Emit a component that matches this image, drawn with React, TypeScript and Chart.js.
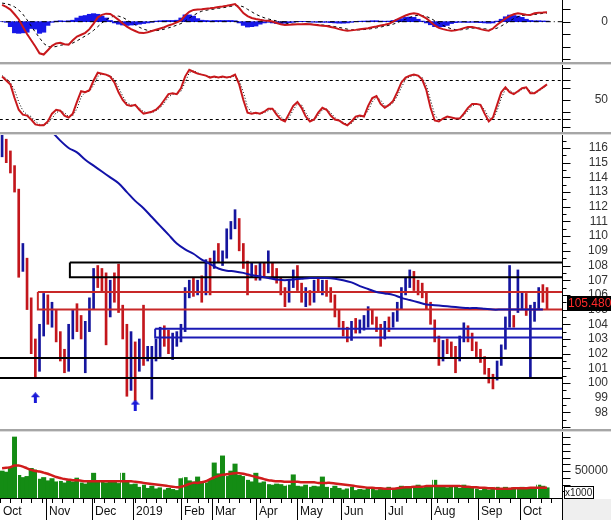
import React, { useEffect, useRef } from "react";
import { Chart, registerables } from "chart.js";
Chart.register(...registerables);

// ---------------- data (one bar = two trading days) ----------------
const monthLabels = ["Oct", "Nov", "Dec", "2019", "Feb", "Mar", "Apr", "May", "Jun", "Jul", "Aug", "Sep", "Oct"];
const monthStarts = [0, 11, 22, 32, 43.5, 51, 61.5, 71.5, 82, 92.5, 103.5, 115, 125];

const closes = [
  115.8, 115.3, 114.8, 113.6, 107.8, 109.0, 105.5, 102.5, 101.0, 103.5,
  105.5, 104.5, 104.9, 103.2, 101.8, 101.0, 103.6, 104.6, 104.0, 103.4,
  103.8, 105.5, 107.5, 107.0, 106.8, 105.0, 106.5, 106.0, 105.0, 103.5,
  99.5, 102.5, 99.5, 102.0, 101.8, 102.2, 102.4, 102.5, 103.2, 103.0,
  102.5, 102.8, 103.0, 103.6, 106.2, 106.5, 106.4, 106.8, 105.8, 108.0,
  107.0, 108.8, 108.5, 108.8, 110.2, 110.8, 111.2, 109.2, 108.0, 107.5,
  107.8, 107.3, 107.9, 107.6, 108.8, 107.4, 107.0, 106.2, 105.6, 106.8,
  107.2, 106.5, 105.8, 106.0, 105.6, 106.7, 106.5, 106.8, 106.2, 105.8,
  104.8, 104.0, 103.4, 103.0, 104.0, 103.7, 103.9, 104.3, 104.8, 104.2,
  103.8, 103.0, 103.9, 103.7, 104.6, 105.3, 106.3, 107.0, 107.3, 106.6,
  106.4, 106.0, 105.3, 104.2, 103.0, 101.6, 102.6, 102.3, 102.0, 101.8,
  103.0, 103.8, 103.0, 102.5, 102.0, 101.6, 100.8, 100.3, 100.2, 101.3,
  102.4, 104.3, 104.4, 104.0, 105.2, 105.8, 104.8, 105.0, 105.3, 106.3,
  106.0, 105.48,
];
const lows = [
  115.4, 115.0, 114.3, 113.0, 107.2, 107.6, 105.0, 102.0, 100.3, 100.8,
  103.2, 104.0, 103.8, 102.8, 101.5, 100.7, 100.8, 103.0, 103.5, 103.0,
  100.7, 103.5, 105.0, 106.5, 106.2, 102.6, 104.5, 105.5, 104.8, 103.0,
  99.1, 99.5, 98.8, 100.8, 101.2, 101.5, 98.9, 101.5, 101.8, 102.5,
  102.0, 101.6, 102.5, 102.8, 103.5, 105.8, 105.9, 106.0, 105.5, 106.0,
  106.0, 107.8, 108.2, 108.0, 108.5, 109.8, 110.5, 109.0, 107.8, 106.0,
  107.2, 107.0, 107.0, 107.3, 107.5, 107.2, 106.8, 106.0, 105.2, 105.5,
  106.5, 106.3, 105.5, 105.2, 105.3, 105.5, 106.2, 106.0, 105.9, 105.5,
  104.5, 103.8, 103.2, 102.8, 102.9, 103.4, 103.4, 103.6, 103.8, 104.0,
  103.5, 102.5, 103.0, 103.5, 103.8, 104.2, 105.0, 106.0, 106.5, 106.3,
  106.0, 105.8, 105.0, 104.0, 102.8, 101.2, 101.5, 102.0, 101.8, 100.7,
  101.5, 102.8, 102.8, 102.2, 101.8, 101.4, 100.6, 100.0, 99.6, 100.2,
  101.2, 102.3, 103.8, 103.8, 104.8, 105.0, 104.6, 100.4, 104.2, 105.0,
  105.5, 105.0,
];
const highs = [
  116.9, 116.6, 115.8, 114.8, 113.2, 109.5, 108.5, 105.8, 103.0, 104.0,
  106.1, 106.0, 105.5, 105.0, 103.5, 102.3, 104.0, 105.0, 105.4, 104.6,
  104.2, 105.8, 107.8, 108.0, 107.8, 107.5, 107.0, 107.5, 108.1, 105.3,
  104.0, 103.5, 102.8, 103.0, 105.3, 102.5, 102.5, 103.0, 103.8, 103.9,
  103.6, 103.4, 103.5, 104.0, 106.5, 107.0, 107.2, 107.0, 107.3, 108.4,
  108.5, 109.0, 109.5, 109.0, 110.5, 111.0, 111.8, 111.2, 109.5, 108.3,
  108.2, 108.0, 108.2, 108.2, 109.0, 108.2, 107.8, 107.2, 106.5, 107.0,
  107.7, 108.0, 106.8, 106.5, 106.3, 107.0, 107.2, 107.0, 107.0, 106.5,
  106.0, 105.0, 104.2, 103.8, 104.2, 104.4, 104.3, 104.6, 105.2, 105.0,
  104.5, 104.0, 104.2, 104.5, 104.8, 105.5, 106.5, 107.2, 107.7, 107.6,
  107.0, 106.8, 106.2, 105.5, 104.3, 103.2, 102.9, 103.0, 102.8, 102.5,
  103.2, 104.1, 103.9, 103.4, 102.8, 102.3, 101.8, 101.0, 100.6, 101.5,
  102.6, 104.5, 108.0, 104.6, 107.7, 106.2, 106.1, 105.3, 105.5, 106.5,
  106.7, 106.5,
];

const maStart = 12;
const maStep = 2;
const longMA = [
  117.1, 116.5, 116.0, 115.7, 115.2, 114.8, 114.4, 114.0, 113.6, 113.0,
  112.4, 111.9, 111.3, 110.7, 110.1, 109.5, 109.1, 108.8, 108.4, 108.1,
  107.8, 107.65, 107.6, 107.5, 107.35, 107.25, 107.15, 107.05, 107.0, 107.05,
  107.1, 107.15, 107.15, 107.15, 107.1, 107.0, 106.85, 106.6, 106.4, 106.2,
  106.1, 106.0, 105.8, 105.65, 105.5, 105.35, 105.3, 105.25, 105.2, 105.15,
  105.1, 105.1, 105.05, 105.0, 105.0, 105.0, 105.0, 105.0, 105.0, 105.0,
];

const zoneTops = [108.2, 106.2, 103.7];
const zoneBottoms = [107.2, 105.0, 103.1];
const zoneStarts = [16.3, 8.6, 36.8];
const supportLevels = [101.7, 100.35];
const arrowBars = [8, 32];
const arrowPrices = [99.0, 98.5];
const lastPriceText = "105.4800";

const rsi = [
  74, 70, 66, 52, 40, 35, 34, 30, 25, 24,
  24, 28, 36, 40, 39, 34, 32, 36, 48, 59,
  58, 60, 70, 78, 77, 76, 74, 68, 58, 50,
  45, 44, 45, 40, 36, 37, 38, 40, 44, 50,
  56, 57, 56, 62, 74, 81, 79, 77, 76, 75,
  73, 74, 73, 74, 73, 74, 76, 66, 50, 37,
  36, 37, 36, 38, 41, 41, 35, 30, 28, 36,
  44, 48, 42, 33, 28, 30, 37, 42, 40, 34,
  30, 29, 26, 24, 28, 33, 34, 33, 44, 52,
  54, 46, 42, 45, 49, 58, 68, 73, 75, 76,
  75, 71, 60, 42, 29, 28, 31, 33, 32, 31,
  31, 36, 42, 46, 46, 45, 36, 28, 32, 45,
  58, 63, 58, 56, 59, 62, 63, 57, 57, 60,
  63, 66,
];
const rsiSignal = [
  75, 72, 68, 60, 48, 39, 35, 33, 28, 25,
  24, 26, 31, 37, 39, 37, 33, 34, 41, 53,
  58, 59, 65, 74, 77, 76, 75, 71, 63, 54,
  47, 45, 44, 42, 38, 37, 37, 39, 42, 47,
  53, 56, 56, 59, 68, 78, 80, 78, 76, 75,
  74, 73, 73, 73, 73, 73, 75, 70, 58, 43,
  37, 36, 36, 37, 39, 41, 38, 33, 29, 32,
  40, 46, 45, 37, 30, 29, 34, 40, 41, 37,
  32, 29, 27, 25, 26, 31, 33, 33, 39, 48,
  53, 50, 44, 44, 47, 54, 63, 71, 74, 75,
  75, 73, 65, 50, 35, 29, 30, 32, 32, 31,
  31, 34, 39, 44, 46, 45, 40, 32, 30, 39,
  52, 61, 60, 57, 58, 61, 62, 59, 57, 59,
  62, 65,
];
const rsiLevels = [70, 30];

const macd = [
  1.35, 1.2, 0.98, 0.6, 0.2, -0.4, -1.0, -1.5, -2.0, -2.55,
  -2.65, -2.3, -1.95, -1.75, -1.7, -1.82, -1.85, -1.5, -1.2, -1.05,
  -0.9, -0.6, -0.15, 0.35, 0.55, 0.65, 0.62, 0.4, 0.15, -0.15,
  -0.4, -0.6, -0.75, -0.9, -0.92, -0.85, -0.75, -0.65, -0.55, -0.45,
  -0.3, -0.2, -0.05, 0.1, 0.5, 0.8, 0.95, 0.98, 1.0, 1.05,
  1.08, 1.12, 1.18, 1.22, 1.28, 1.35, 1.42, 1.1, 0.7, 0.45,
  0.3, 0.22, 0.15, 0.1, 0.08, 0.02, -0.1, -0.2, -0.27, -0.25,
  -0.22, -0.2, -0.2, -0.19, -0.2, -0.24, -0.28, -0.32, -0.35, -0.42,
  -0.5, -0.6, -0.68, -0.73, -0.7, -0.66, -0.6, -0.56, -0.53, -0.45,
  -0.38, -0.3, -0.24, -0.17, 0.0, 0.18, 0.35, 0.5, 0.62, 0.68,
  0.62, 0.45, 0.27, 0.0, -0.3, -0.5, -0.6, -0.68, -0.73, -0.7,
  -0.62, -0.52, -0.42, -0.42, -0.5, -0.6, -0.68, -0.73, -0.55, -0.25,
  0.0, 0.25, 0.45, 0.6, 0.68, 0.62, 0.56, 0.54, 0.68, 0.73,
  0.74, 0.76,
];
const macdSignal = [
  1.5, 1.45, 1.35, 1.2, 0.95, 0.6, 0.15, -0.35, -0.85, -1.3,
  -1.75, -2.0, -2.05, -2.0, -1.9, -1.85, -1.82, -1.72, -1.55, -1.35,
  -1.15, -0.95, -0.7, -0.4, -0.1, 0.15, 0.35, 0.45, 0.45, 0.35,
  0.15, -0.05, -0.25, -0.45, -0.6, -0.7, -0.72, -0.72, -0.68, -0.6,
  -0.5, -0.4, -0.28, -0.15, 0.05, 0.3, 0.5, 0.7, 0.85, 0.92,
  0.98, 1.02, 1.08, 1.12, 1.18, 1.24, 1.3, 1.3, 1.2, 1.0,
  0.8, 0.6, 0.45, 0.32, 0.22, 0.14, 0.06, -0.02, -0.1, -0.16,
  -0.2, -0.22, -0.22, -0.21, -0.2, -0.21, -0.23, -0.26, -0.3, -0.34,
  -0.4, -0.46, -0.53, -0.6, -0.65, -0.67, -0.66, -0.63, -0.6, -0.55,
  -0.5, -0.43, -0.36, -0.29, -0.2, -0.08, 0.06, 0.2, 0.34, 0.45,
  0.52, 0.5, 0.42, 0.28, 0.08, -0.12, -0.3, -0.45, -0.57, -0.64,
  -0.66, -0.63, -0.57, -0.52, -0.5, -0.52, -0.57, -0.62, -0.62, -0.52,
  -0.35, -0.15, 0.05, 0.25, 0.4, 0.5, 0.54, 0.55, 0.58, 0.63,
  0.67, 0.7,
];
const macdHist = [
  0, -0.05, -0.4, -0.9, -0.94, -0.9, -0.85, -0.55, -0.6, -0.94,
  -0.85, -0.3, -0.05, 0.05, 0.08, 0.05, 0.08, 0.12, 0.3, 0.45,
  0.5, 0.6, 0.65, 0.6, 0.45, 0.3, 0.1, -0.1, -0.2, -0.27,
  -0.3, -0.27, -0.25, -0.2, -0.15, -0.1, -0.05, 0.05, 0.08, 0.1,
  0.1, 0.1, 0.12, 0.3, 0.55, 0.55, 0.45, 0.25, 0.12, 0.1,
  0.08, 0.1, 0.1, 0.1, 0.1, 0.1, 0.08, -0.1, -0.3, -0.43,
  -0.4, -0.35, -0.2, -0.1, -0.05, -0.1, -0.15, -0.15, -0.12, -0.08,
  -0.05, 0.02, 0.03, 0.02, -0.03, -0.04, -0.05, -0.05, -0.05, -0.08,
  -0.1, -0.12, -0.12, -0.1, -0.05, 0.02, 0.04, 0.05, 0.06, 0.08,
  0.08, 0.05, 0.04, 0.05, 0.1, 0.18, 0.25, 0.35, 0.38, 0.35,
  0.2, 0.05, -0.1, -0.25, -0.4, -0.43, -0.4, -0.3, -0.15, -0.08,
  -0.05, -0.05, -0.06, -0.05, -0.06, -0.08, -0.1, -0.12, -0.1, 0.05,
  0.2, 0.4, 0.54, 0.5, 0.45, 0.35, 0.2, 0.1, 0.08, 0.08,
  0.06, 0.05,
];

// volume in thousands
const volume = [
  50, 48, 55, 113, 42, 38, 40, 55, 52, 35,
  38, 32, 36, 30, 31, 28, 32, 30, 37, 28,
  26, 30, 46, 30, 32, 28, 30, 31, 27, 46,
  30, 25, 26, 20, 24, 18, 22, 17, 19, 15,
  18, 16, 14, 36, 38, 32, 30, 39, 30, 28,
  33, 65, 45, 78, 40, 50, 63, 42, 40, 33,
  30, 46, 28, 30, 25, 24, 26, 25, 22, 24,
  43, 22, 21, 24, 20, 22, 21, 39, 20, 18,
  22, 18, 15, 17, 20, 14, 16, 15, 18, 17,
  14, 16, 15, 20, 15, 17, 22, 18, 21, 20,
  24, 19, 20, 22, 33, 20, 22, 19, 20, 21,
  18, 24, 20, 19, 17, 14, 18, 15, 18, 20,
  17, 20, 18, 19, 16, 20, 18, 19, 17, 24,
  22, 19,
];
const volumeMA = [
  55, 56, 57, 60, 60, 58, 55, 52, 50, 49,
  47, 45, 42, 39, 37, 35, 34, 33, 33, 32,
  31, 31, 31, 31, 31, 31, 31, 31, 31, 31,
  31, 31, 30, 29, 28, 27, 26, 25, 24, 23,
  22, 21, 20, 21, 23, 26, 28, 28, 29, 31,
  35, 38, 41, 43, 44, 45, 46, 46, 45, 43,
  41, 39, 37, 35, 33, 32, 31, 31, 30, 30,
  30, 30, 29, 29, 29, 29, 28, 28, 28, 28,
  27, 26, 25, 24, 23, 22, 21, 20, 19, 19,
  18, 18, 17, 17, 17, 18, 19, 20, 20, 21,
  21, 21, 22, 22, 22, 22, 22, 22, 22, 22,
  22, 21, 21, 20, 20, 19, 19, 18, 18, 17,
  17, 17, 17, 18, 18, 18, 18, 19, 19, 19,
  19, 19,
];

const priceTickValues = [97, 98, 99, 100, 101, 102, 103, 104, 105, 106, 107, 108, 109, 110, 111, 112, 113, 114, 115, 116];
const priceTickLabels = ["", "98", "99", "100", "101", "102", "103", "104", "105", "106", "107", "108", "109", "110", "111", "112", "113", "114", "115", "116"];
const macdTickValues = [1, 0, -1, -2, -3];
const macdTickLabels = ["", "0", "", "", ""];
const rsiTickValues = [82.5, 70, 62.5, 50, 37.5, 30, 22.5];
const rsiTickLabels = ["", "", "", "50", "", "", ""];
const volTickValues = [12.5, 25, 37.5, 50, 62.5, 75, 87.5, 100, 112.5];
const volTickLabels = ["", "", "", "50000", "", "", "", "", ""];
const volSeparatorEvery = 5;
const volSeparatorFirst = 3.5;

// ---------------- layout / style ----------------
const CW = 611;
const PLOT_RIGHT = 562;
const X_MIN = -0.5;
const X_MAX = 134.6;
const FONT = '"Liberation Sans", Arial, sans-serif';
const RED = "#c3161c";
const BLUE = "#15159e";

const series = (arr: number[], start = 0, step = 1) => arr.map((v, i) => ({ x: start + i * step, y: v }));
const hline = (y: number) => [{ x: -2, y }, { x: 140, y }];

function baseOptions(yMin: number, yMax: number, padBottom = 0): any {
  return {
    animation: false,
    responsive: false,
    maintainAspectRatio: false,
    devicePixelRatio: 1,
    events: [],
    layout: { autoPadding: false, padding: { left: 0, top: 0, right: CW - PLOT_RIGHT, bottom: padBottom } },
    plugins: { legend: { display: false }, tooltip: { enabled: false } },
    scales: {
      x: { type: "linear", min: X_MIN, max: X_MAX, display: false, offset: false },
      y: { type: "linear", min: yMin, max: yMax, display: false },
    },
  };
}

function lineDs(data: any[], color: string, width: number, extra: any = {}): any {
  return { type: "line", data, borderColor: color, borderWidth: width, pointRadius: 0, fill: false, clip: 0, tension: 0, ...extra };
}

function rightAxis(id: string, values: number[], labels: string[], minor: number[]): any {
  return {
    id,
    afterDraw(chart: any) {
      const { ctx, chartArea: a } = chart;
      const ys = chart.scales.y;
      const x0 = Math.round(a.right) + 0.5;
      ctx.save();
      ctx.strokeStyle = "#000";
      ctx.lineWidth = 1;
      ctx.beginPath();
      ctx.moveTo(x0, a.top);
      ctx.lineTo(x0, a.bottom);
      for (const v of minor) {
        const y = Math.round(ys.getPixelForValue(v)) + 0.5;
        ctx.moveTo(x0, y);
        ctx.lineTo(x0 + 4, y);
      }
      for (const v of values) {
        const y = Math.round(ys.getPixelForValue(v)) + 0.5;
        ctx.moveTo(x0, y);
        ctx.lineTo(x0 + 8, y);
      }
      ctx.stroke();
      ctx.fillStyle = "#333";
      ctx.font = "12px " + FONT;
      ctx.textAlign = "right";
      ctx.textBaseline = "middle";
      values.forEach((v, i) => {
        if (labels[i]) ctx.fillText(labels[i], 608, ys.getPixelForValue(v));
      });
      ctx.restore();
    },
  };
}

function makeArrow(): HTMLCanvasElement {
  const c = document.createElement("canvas");
  c.width = 9;
  c.height = 11;
  const g = c.getContext("2d")!;
  g.fillStyle = "#1a1ad8";
  g.beginPath();
  g.moveTo(4.5, 0);
  g.lineTo(9, 5);
  g.lineTo(6, 5);
  g.lineTo(6, 11);
  g.lineTo(3, 11);
  g.lineTo(3, 5);
  g.lineTo(0, 5);
  g.closePath();
  g.fill();
  return c;
}

function macdConfig(h: number): any {
  const max = 1.75;
  const min = max - h / 12.4;
  return {
    type: "line",
    data: {
      datasets: [
        { type: "bar", data: series(macdHist), backgroundColor: "#1717e8", barThickness: 4.4, grouped: false, order: 4, clip: 0 },
        lineDs(hline(0), "#000", 1, { borderDash: [5, 3, 1, 3], order: 3 }),
        lineDs(series(macdSignal), "#000", 1, { borderDash: [3, 3], order: 2 }),
        lineDs(series(macd), "#c8181c", 2, { order: 1 }),
      ],
    },
    options: baseOptions(min, max),
    plugins: [rightAxis("macdAxis", macdTickValues, macdTickLabels, [])],
  };
}

function rsiConfig(h: number): any {
  const max = 50 + 35 / 0.975;
  const min = max - h / 0.975;
  return {
    type: "line",
    data: {
      datasets: [
        ...rsiLevels.map((lv) => lineDs(hline(lv), "#000", 1, { borderDash: [3, 3], order: 3 })),
        lineDs(series(rsiSignal), "#000", 1, { borderDash: [1, 2], order: 2 }),
        lineDs(series(rsi), "#c8181c", 2, { order: 1 }),
      ],
    },
    options: baseOptions(min, max),
    plugins: [rightAxis("rsiAxis", rsiTickValues, rsiTickLabels, [])],
  };
}

function priceConfig(h: number): any {
  const max = 116 + 13 / 14.69;
  const min = max - h / 14.69;
  const arrow = makeArrow();
  const zoneColors = ["#000000", "#c82828", "#1a1ab4"];
  const zoneDs = zoneTops.map((top, i) =>
    lineDs(
      [
        { x: zoneStarts[i], y: top },
        { x: 140, y: top },
        { x: 140, y: zoneBottoms[i] },
        { x: zoneStarts[i], y: zoneBottoms[i] },
        { x: zoneStarts[i], y: top },
      ],
      zoneColors[i],
      2,
      { order: 3 }
    )
  );
  const labelPlugin = {
    id: "lastPrice",
    afterDraw(chart: any) {
      const { ctx } = chart;
      const y = chart.scales.y.getPixelForValue(closes[closes.length - 1]);
      ctx.save();
      ctx.fillStyle = "#000";
      ctx.fillRect(567, Math.round(y) - 7, 44, 15);
      ctx.fillStyle = "#ff2a2a";
      ctx.font = "12px " + FONT;
      ctx.textAlign = "left";
      ctx.textBaseline = "middle";
      ctx.fillText(lastPriceText, 568, Math.round(y) + 1);
      ctx.restore();
    },
  };
  return {
    type: "line",
    data: {
      datasets: [
        {
          type: "bar",
          data: closes.map((c, i) => ({ x: i, y: [lows[i], highs[i]] })),
          backgroundColor: closes.map((c, i) => (i === 0 || c >= closes[i - 1] ? BLUE : RED)),
          barThickness: 2,
          grouped: false,
          order: 5,
          clip: 0,
        },
        ...zoneDs,
        ...supportLevels.map((lv) => lineDs(hline(lv), "#000", 2, { order: 3 })),
        lineDs(series(longMA, maStart, maStep), "#1212a8", 2, { order: 1, tension: 0.3 }),
        {
          type: "line",
          data: arrowBars.map((b, i) => ({ x: b, y: arrowPrices[i] })),
          showLine: false,
          pointStyle: arrow,
          pointRadius: 5,
          order: 0,
          clip: 0,
        },
      ],
    },
    options: baseOptions(min, max),
    plugins: [
      rightAxis("priceAxis", priceTickValues, priceTickLabels, priceTickValues.map((v) => v + 0.5)),
      labelPlugin,
    ],
  };
}

function volumeConfig(h: number, padBottom: number): any {
  const max = (h - padBottom) / 0.54;
  const sepPlugin = {
    id: "volSep",
    afterDatasetDraw(chart: any, args: any) {
      if (args.index !== 0) return;
      const { ctx, chartArea: a } = chart;
      const xs = chart.scales.x;
      ctx.save();
      ctx.strokeStyle = "#ffffff";
      ctx.lineWidth = 1;
      ctx.beginPath();
      for (let k = volSeparatorFirst; k < volume.length; k += volSeparatorEvery) {
        const px = Math.round(xs.getPixelForValue(k)) + 0.5;
        ctx.moveTo(px, a.top);
        ctx.lineTo(px, a.bottom);
      }
      ctx.stroke();
      ctx.restore();
    },
  };
  const xAxisPlugin = {
    id: "xAxisBottom",
    afterDraw(chart: any) {
      const { ctx, chartArea: a } = chart;
      const xs = chart.scales.x;
      const H = chart.height;
      const bottom = Math.round(a.bottom);
      ctx.save();
      ctx.fillStyle = "#efefef";
      ctx.fillRect(PLOT_RIGHT + 1, bottom + 1, CW - PLOT_RIGHT, H - bottom);
      ctx.strokeStyle = "#000";
      ctx.lineWidth = 1;
      ctx.beginPath();
      ctx.moveTo(0, bottom + 0.5);
      ctx.lineTo(PLOT_RIGHT + 1, bottom + 0.5);
      ctx.moveTo(PLOT_RIGHT + 0.5, bottom);
      ctx.lineTo(PLOT_RIGHT + 0.5, H);
      for (let t = X_MIN; t < X_MAX - 1; t += 2.5) {
        const px = Math.round(xs.getPixelForValue(t)) + 0.5;
        ctx.moveTo(px, bottom);
        ctx.lineTo(px, bottom + 5);
      }
      monthStarts.forEach((s, i) => {
        if (i === 0) return;
        const px = Math.round(xs.getPixelForValue(s - 0.5)) + 0.5;
        ctx.moveTo(px, bottom);
        ctx.lineTo(px, H);
      });
      ctx.stroke();
      ctx.fillStyle = "#111";
      ctx.font = "12px " + FONT;
      ctx.textAlign = "left";
      ctx.textBaseline = "middle";
      monthStarts.forEach((s, i) => {
        const px = Math.max(1, Math.round(xs.getPixelForValue(s - 0.5)) + 3);
        ctx.fillText(monthLabels[i], px, bottom + 14);
      });
      // unit box
      ctx.fillStyle = "#fff";
      ctx.fillRect(564, bottom - 12, 29, 12);
      ctx.strokeRect(564.5, bottom - 11.5, 29, 12);
      ctx.fillStyle = "#222";
      ctx.font = "10px " + FONT;
      ctx.fillText("x1000", 565, bottom - 5);
      ctx.restore();
    },
  };
  return {
    type: "line",
    data: {
      datasets: [
        { type: "bar", data: series(volume), backgroundColor: "#148c14", barThickness: 4.4, grouped: false, order: 2, clip: 0 },
        lineDs(series(volumeMA), "#d01c1c", 2.5, { order: 1, tension: 0.3 }),
      ],
    },
    options: baseOptions(0, max, padBottom),
    plugins: [rightAxis("volAxis", volTickValues, volTickLabels, []), sepPlugin, xAxisPlugin],
  };
}

const PANELS = {
  macd: { top: 0, h: 63 },
  rsi: { top: 65, h: 68 },
  price: { top: 135, h: 295 },
  vol: { top: 432, h: 88, pad: 22 },
};

export default function App() {
  const macdRef = useRef<HTMLCanvasElement>(null);
  const rsiRef = useRef<HTMLCanvasElement>(null);
  const priceRef = useRef<HTMLCanvasElement>(null);
  const volRef = useRef<HTMLCanvasElement>(null);

  useEffect(() => {
    const charts: Chart[] = [];
    charts.push(new Chart(macdRef.current!, macdConfig(PANELS.macd.h)));
    charts.push(new Chart(rsiRef.current!, rsiConfig(PANELS.rsi.h)));
    charts.push(new Chart(priceRef.current!, priceConfig(PANELS.price.h)));
    charts.push(new Chart(volRef.current!, volumeConfig(PANELS.vol.h, PANELS.vol.pad)));
    return () => charts.forEach((c) => c.destroy());
  }, []);

  const cv = (top: number, h: number): React.CSSProperties => ({
    position: "absolute",
    left: 0,
    top,
    width: CW,
    height: h,
    display: "block",
  });
  const sep = (top: number): React.CSSProperties => ({
    position: "absolute",
    left: 0,
    top,
    width: CW,
    height: 2,
    background: "#a6a6a6",
    borderBottom: "1px solid #dcdcdc",
  });

  return (
    <div style={{ position: "fixed", left: 0, top: 0, width: CW, height: 520, background: "#fff", overflow: "hidden" }}>
      <canvas ref={macdRef} width={CW} height={PANELS.macd.h} style={cv(PANELS.macd.top, PANELS.macd.h)} />
      <canvas ref={rsiRef} width={CW} height={PANELS.rsi.h} style={cv(PANELS.rsi.top, PANELS.rsi.h)} />
      <canvas ref={priceRef} width={CW} height={PANELS.price.h} style={cv(PANELS.price.top, PANELS.price.h)} />
      <canvas ref={volRef} width={CW} height={PANELS.vol.h} style={cv(PANELS.vol.top, PANELS.vol.h)} />
      <div style={sep(62)} />
      <div style={sep(132)} />
      <div style={sep(429)} />
    </div>
  );
}
